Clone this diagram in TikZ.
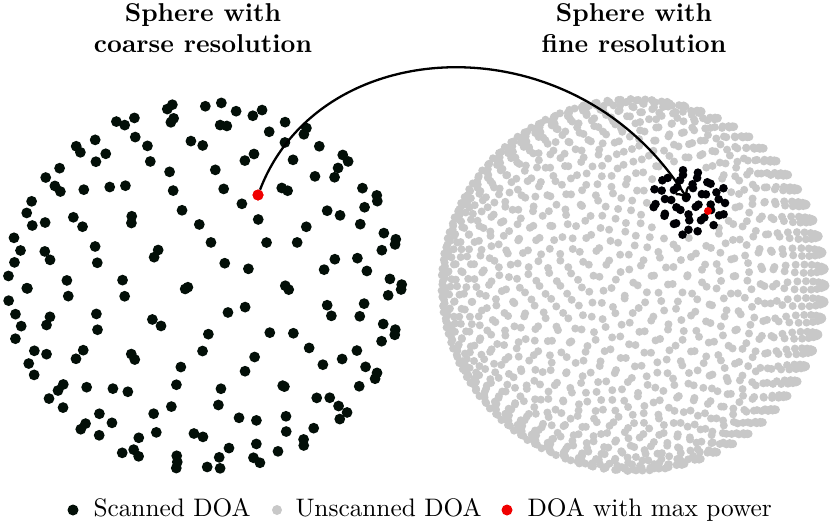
\documentclass[tikz,border=0pt]{standalone}
\usetikzlibrary{arrows.meta}
\definecolor{scan}{RGB}{3,15,8}
\definecolor{unscan}{RGB}{200,200,200}
\definecolor{maxp}{RGB}{240,0,0}
\definecolor{clus}{RGB}{0,0,5}
\tikzset{
  title/.style={align=center, font=\bfseries, scale=2.58, inner sep=0pt, anchor=north},
  legtext/.style={anchor=base west, scale=2.53, inner sep=0pt},
  dotnode/.style={circle, inner sep=0pt, minimum size=#1},
  link/.style={line width=2.3pt, -{To[length=12pt, width=16pt]}}
}
\begin{document}
\begin{tikzpicture}[x=1pt,y=-1pt]
\useasboundingbox (0,0) rectangle (830,523);

% ---- left sphere: coarse grid ----
\foreach \i in {0,...,199}{%
  \edef\z{\fpeval{1-(2*\i+1)/200}}%
  \edef\r{\fpeval{sqrt(1-(\z)^2)}}%
  \edef\ph{\fpeval{\i*137.50776405+40}}%
  \edef\X{\fpeval{round(205+198*\r*cosd(\ph),2)}}%
  \edef\Y{\fpeval{round(286+184*(\r*sind(\ph)*cosd(65)-\z*sind(65)),2)}}%
  \fill[scan] (\X,\Y) circle (5.4);
}

% ---- right sphere: fine grid (unscanned part) ----
\foreach \i in {0,...,1499}{%
  \edef\z{\fpeval{1-(2*\i+1)/1500}}%
  \edef\r{\fpeval{sqrt(1-(\z)^2)}}%
  \edef\ph{\fpeval{\i*137.50776405+20}}%
  \edef\X{\fpeval{round(633.5+192*\r*cosd(\ph),2)}}%
  \edef\Y{\fpeval{round(285+186*(\r*sind(\ph)*cosd(57)-\z*sind(57)),2)}}%
  \ifnum\fpeval{((\X-688)/41)^2+((\Y-202)/36)^2<1}=0 %
    \fill[unscan] (\X,\Y) circle (4);%
  \fi
}

% ---- right sphere: scanned neighbourhood of the coarse maximum ----
\foreach \i in {0,...,2099}{%
  \edef\z{\fpeval{1-(2*\i+1)/2100}}%
  \edef\r{\fpeval{sqrt(1-(\z)^2)}}%
  \edef\ph{\fpeval{\i*137.50776405+70}}%
  \edef\X{\fpeval{round(633.5+192*\r*cosd(\ph),2)}}%
  \ifnum\fpeval{abs(\X-688)<39}=1 %
    \edef\Y{\fpeval{round(285+186*(\r*sind(\ph)*cosd(57)-\z*sind(57)),2)}}%
    \ifnum\fpeval{((\X-688)/39)^2+((\Y-202)/34)^2<1}=1 %
      \fill[clus] (\X,\Y) circle (4.3);%
    \fi
  \fi
}

% ---- maxima ----
\node[dotnode=8pt, fill=maxp] (maxR) at (708,211) {};
\coordinate (tip) at (688,200);
\node[dotnode=11pt, fill=maxp] (maxL) at (258,195) {};
\draw[link] (maxL) .. controls (322,29) and (579,21) .. (tip);
\node[dotnode=11pt, fill=maxp] at (maxL) {};

% ---- titles ----
\node[title] (tL) at (203,3) {Sphere with\\coarse resolution};
\node[title] (tR) at (634,3) {Sphere with\\fine resolution};

% ---- legend ----
\node[dotnode=11pt, fill=scan] (l1) at (73,510) {};
\node[legtext] (t1) at (93,516) {Scanned DOA};
\node[dotnode=10pt, fill=unscan] (l2) at (277,510) {};
\node[legtext] (t2) at (295,516) {Unscanned DOA};
\node[dotnode=11pt, fill=maxp] (l3) at (507,510) {};
\node[legtext] (t3) at (527,516) {DOA with max power};
\end{tikzpicture}
\end{document}
